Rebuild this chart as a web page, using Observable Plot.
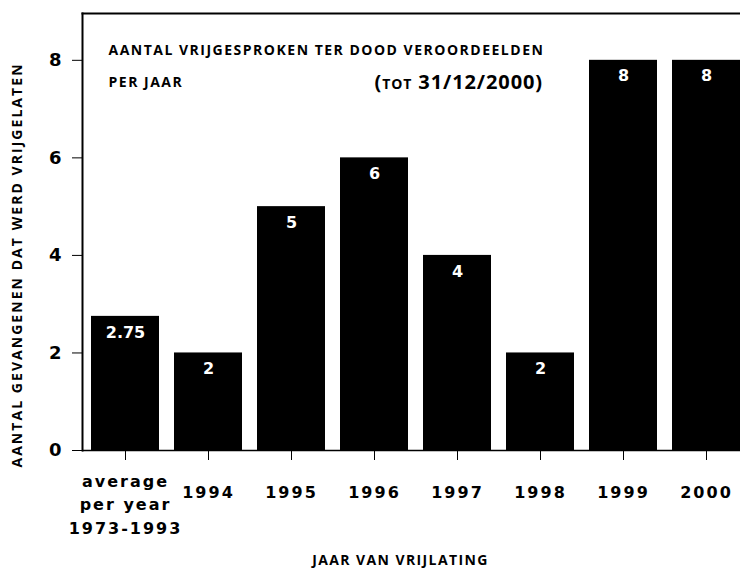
<!DOCTYPE html>
<html>
<head>
<meta charset="utf-8">
<script src="https://cdn.jsdelivr.net/npm/d3@7"></script>
<script src="https://cdn.jsdelivr.net/npm/@observablehq/plot@0.6"></script>
<style>
  html, body { margin: 0; padding: 0; background: white; overflow: hidden; }
</style>
</head>
<body>
<div id="chart"></div>
<script>
// ---- data ----
const categories = ["average\nper year\n1973-1993", "1994", "1995", "1996", "1997", "1998", "1999", "2000"];
const values = [2.75, 2, 5, 6, 4, 2, 8, 8];
const valueLabels = ["2.75", "2", "5", "6", "4", "2", "8", "8"];
const yTicks = [0, 2, 4, 6, 8];
const titleLine1 = ["AANTAL VRIJGESPROKEN TER DOOD VEROORDEELDEN"];
const titleLine2 = ["PER JAAR"];
const titleDate = ["(tot 31/12/2000)"];
const yAxisTitle = ["AANTAL GEVANGENEN DAT WERD VRIJGELATEN"];
const xAxisTitle = ["JAAR VAN VRIJLATING"];

const data = categories.map((c, i) => ({cat: c, value: values[i], label: valueLabels[i]}));
const firstCat = data.slice(0, 1);
const yearCats = data.slice(1);

const numFont = "DejaVu Sans";
const txtFont = "Open Sans";

const chart = Plot.plot({
  width: 740,
  height: 568,
  marginLeft: 82,
  marginRight: 0,
  marginTop: 13,
  marginBottom: 118,
  x: {domain: categories, range: [82, 749], paddingInner: 0.185, paddingOuter: 0.0925, axis: null},
  y: {domain: [0, 8.96], axis: null},
  style: {background: "white", color: "black", overflow: "hidden"},
  marks: [
    Plot.barY(data, {x: "cat", y: "value", fill: "black"}),
    Plot.text(data, {x: "cat", y: "value", text: "label", fill: "white", dy: 16, fontSize: 16, fontWeight: "bold", fontFamily: numFont}),
    Plot.frame({anchor: "left", strokeWidth: 2}),
    Plot.frame({anchor: "top", strokeWidth: 2}),
    Plot.ruleY([0], {strokeWidth: 1.5}),
    Plot.axisY({ticks: yTicks, tickSize: 10, tickPadding: 11, fontSize: 18, fontWeight: "bold", fontFamily: numFont, label: null}),
    Plot.axisX({tickSize: 10, tickFormat: () => "", label: null}),
    Plot.text(yearCats, {x: "cat", text: "cat", frameAnchor: "bottom", lineAnchor: "middle", dy: 42, fontSize: 16, fontWeight: "bold", fontFamily: numFont}),
    Plot.text(firstCat, {x: "cat", text: "cat", frameAnchor: "bottom", lineAnchor: "middle", dy: 52, lineHeight: 1.47, fontSize: 16, fontWeight: "bold", fontFamily: numFont}),
    Plot.text(titleLine1, {frameAnchor: "top-left", lineAnchor: "middle", textAnchor: "start", dx: 26, dy: 37, fontSize: 14, fontWeight: "bold", fontFamily: txtFont}),
    Plot.text(titleLine2, {frameAnchor: "top-left", lineAnchor: "middle", textAnchor: "start", dx: 26, dy: 69, fontSize: 14, fontWeight: "bold", fontFamily: txtFont}),
    Plot.text(titleDate, {frameAnchor: "top-left", lineAnchor: "middle", textAnchor: "start", dx: 292, dy: 69, fontSize: 20, fontWeight: "bold", fontVariant: "small-caps", fontFamily: txtFont}),
    Plot.text(yAxisTitle, {frameAnchor: "left", lineAnchor: "middle", textAnchor: "middle", rotate: -90, dx: -65, dy: 33, fontSize: 14, fontWeight: "bold", fontFamily: txtFont}),
    Plot.text(xAxisTitle, {frameAnchor: "bottom", lineAnchor: "middle", textAnchor: "middle", dx: -11, dy: 110, fontSize: 14, fontWeight: "bold", fontFamily: txtFont})
  ]
});

document.getElementById("chart").appendChild(chart);

// letter spacing tweaks, matched by the text they carry
const years = new Set(categories.slice(1));
d3.select(chart).selectAll("text").each(function() {
  const t = this.textContent;
  if (titleLine1.includes(t) || titleLine2.includes(t)) this.setAttribute("letter-spacing", "1.5");
  else if (yAxisTitle.includes(t)) this.setAttribute("letter-spacing", "2.05");
  else if (xAxisTitle.includes(t)) this.setAttribute("letter-spacing", "1.4");
  else if (years.has(t)) this.setAttribute("letter-spacing", "2");
  else if (titleDate.includes(t)) this.setAttribute("letter-spacing", "0.9");
});
d3.select(chart).selectAll("tspan").attr("letter-spacing", "2");
</script>
</body>
</html>
